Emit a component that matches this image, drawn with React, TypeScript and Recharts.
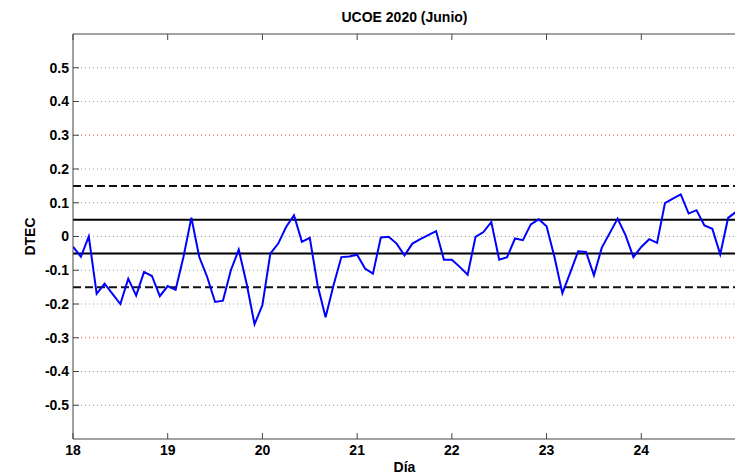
import { LineChart, Line, XAxis, YAxis, ReferenceLine, Label } from "recharts";

// muestras cada 2 horas
const HOURS = [0, 2, 4, 6, 8, 10, 12, 14, 16, 18, 20, 22];

const DAYS = [18, 19, 20, 21, 22, 23, 24];
const DTEC_18 = [-0.03, -0.06, 0.0, -0.17, -0.14, -0.17, -0.2, -0.125, -0.175, -0.105, -0.117, -0.177];
const DTEC_19 = [-0.147, -0.158, -0.06, 0.056, -0.061, -0.12, -0.194, -0.19, -0.1, -0.039, -0.14, -0.26];
const DTEC_20 = [-0.203, -0.051, -0.021, 0.028, 0.063, -0.016, -0.004, -0.145, -0.239, -0.145, -0.061, -0.059];
const DTEC_21 = [-0.054, -0.095, -0.11, -0.003, -0.001, -0.021, -0.056, -0.021, -0.008, 0.004, 0.016, -0.069];
const DTEC_22 = [-0.069, -0.09, -0.113, -0.001, 0.013, 0.043, -0.069, -0.061, -0.006, -0.011, 0.036, 0.051];
const DTEC_23 = [0.03, -0.061, -0.168, -0.107, -0.044, -0.046, -0.115, -0.033, 0.01, 0.053, 0.004, -0.061];
const DTEC_24 = [-0.031, -0.008, -0.019, 0.099, 0.112, 0.125, 0.068, 0.078, 0.033, 0.023, -0.053, 0.055];
const DTEC_25 = [0.073];

const X_TICKS = [18, 19, 20, 21, 22, 23, 24];
const Y_TICKS = [0.5, 0.4, 0.3, 0.2, 0.1, 0, -0.1, -0.2, -0.3, -0.4, -0.5];
const RED_GRID = [0.3, -0.3];
const DASHED_LIMITS = [0.15, -0.15];
const SOLID_LIMITS = [0.05, -0.05];

const byDay = [DTEC_18, DTEC_19, DTEC_20, DTEC_21, DTEC_22, DTEC_23, DTEC_24];
const data = [
  ...DAYS.flatMap((d, k) => byDay[k].map((v, i) => ({ day: d + HOURS[i] / 24, dtec: v }))),
  { day: 25, dtec: DTEC_25[0] },
];

const FONT = "'Liberation Sans', Arial, sans-serif";
const tickStyle = { fontFamily: FONT, fontSize: 14, fontWeight: 700, fill: "#000" };

export default function App() {
  return (
    <div style={{ position: "absolute", left: 0, top: 0, width: 735, height: 474, overflow: "hidden", background: "#fff" }}>
      <div
        style={{
          position: "absolute", left: 73, width: 663, top: 9, textAlign: "center",
          fontFamily: FONT, fontSize: 14, fontWeight: 700, color: "#000", lineHeight: "16px",
        }}
      >
        UCOE 2020 (Junio)
      </div>
      <LineChart width={738} height={474} data={data} margin={{ top: 33, right: 1, left: 0, bottom: 0 }}>
        <XAxis
          dataKey="day" type="number" domain={[18, 25]} ticks={X_TICKS} allowDataOverflow
          height={35} stroke="#444" tickSize={-6} tickMargin={12} tick={tickStyle}
        >
          <Label value="Día" position="insideBottom" offset={2}
                 style={{ fontFamily: FONT, fontSize: 14, fontWeight: 700, fill: "#000" }} />
        </XAxis>
        <XAxis
          xAxisId="top" orientation="top" dataKey="day" type="number" domain={[18, 25]}
          ticks={X_TICKS} height={1} stroke="#444" tickSize={-6} tickFormatter={() => ""}
        />
        <YAxis
          type="number" domain={[-0.6, 0.6]} ticks={Y_TICKS} allowDataOverflow width={73}
          stroke="#444" tickSize={-6} tickMargin={10} tick={tickStyle}
          tickFormatter={(v) => (v === 0 ? "0" : String(v))}
        >
          <Label value="DTEC" angle={-90} position="insideLeft" offset={30}
                 style={{ fontFamily: FONT, fontSize: 14, fontWeight: 700, fill: "#000", textAnchor: "middle" }} />
        </YAxis>
        <YAxis
          yAxisId="r" orientation="right" type="number" domain={[-0.6, 0.6]} ticks={Y_TICKS}
          width={1} stroke="#444" tickSize={-6} tickFormatter={() => ""}
        />
        {Y_TICKS.filter((v) => !RED_GRID.includes(v)).map((v) => (
          <ReferenceLine key={"g" + v} y={v} stroke="#999" strokeDasharray="1 3" />
        ))}
        {RED_GRID.map((v) => (
          <ReferenceLine key={"r" + v} y={v} stroke="#ff4d4d" strokeDasharray="1 3" />
        ))}
        {DASHED_LIMITS.map((v) => (
          <ReferenceLine key={"d" + v} y={v} stroke="#111" strokeWidth={2} strokeDasharray="8 4" />
        ))}
        {SOLID_LIMITS.map((v) => (
          <ReferenceLine key={"s" + v} y={v} stroke="#000" strokeWidth={2} />
        ))}
        <Line
          type="linear" dataKey="dtec" stroke="#0000ff" strokeWidth={2}
          dot={false} isAnimationActive={false}
        />
      </LineChart>
    </div>
  );
}
